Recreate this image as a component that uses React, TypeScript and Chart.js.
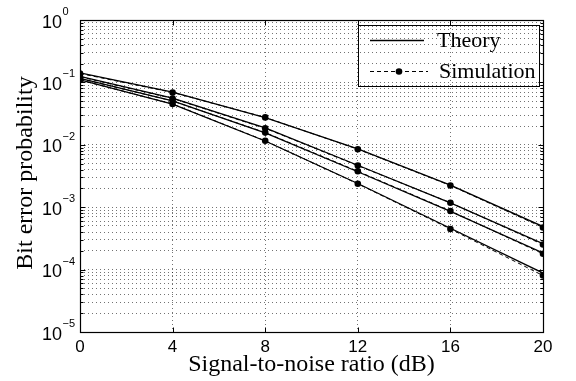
import React, { useEffect, useRef } from 'react';
import { Chart, registerables } from 'chart.js';

Chart.register(...registerables);

const snrDb = [0, 4, 8, 12, 16, 20];

const theory1 = [0.142, 0.07, 0.0272, 0.0086, 0.00226, 0.00049];
const theory2 = [0.125, 0.056, 0.0186, 0.0047, 0.00117, 0.00026];
const theory3 = [0.116, 0.0505, 0.0155, 0.0037, 0.00086, 0.000185];
const theory4 = [0.11, 0.045, 0.0115, 0.0024, 0.00046, 0.000088];

const sim1 = [0.139, 0.069, 0.0275, 0.0085, 0.00223, 0.000474];
const sim2 = [0.123, 0.0553, 0.0184, 0.00464, 0.00118, 0.000252];
const sim3 = [0.115, 0.0504, 0.0157, 0.00377, 0.00087, 0.000179];
const sim4 = [0.109, 0.0451, 0.0116, 0.00237, 0.000448, 0.0000803];

const xTickValues = [0, 4, 8, 12, 16, 20];
const yDecadeExponents = [-5, -4, -3, -2, -1, 0];
const xAxisTitle = 'Signal-to-noise ratio (dB)';
const yAxisTitle = 'Bit error probability';
const legendTheory = 'Theory';
const legendSimulation = 'Simulation';

const SANS = '"Liberation Sans", Arial, sans-serif';
const SERIF = '"Liberation Serif", "Times New Roman", serif';

export default function App() {
  const ref = useRef<HTMLCanvasElement>(null);

  useEffect(() => {
    document.body.style.margin = '0';
    const canvas = ref.current;
    if (!canvas) return;

    const theorySets = [theory1, theory2, theory3, theory4];
    const simSets = [sim1, sim2, sim3, sim4];
    const datasets: any[] = [];
    theorySets.forEach((arr) => {
      datasets.push({
        data: snrDb.map((x, i) => ({ x, y: arr[i] })),
        borderColor: '#000',
        borderWidth: 1.3,
        pointRadius: 0,
        fill: false,
        tension: 0,
      });
    });
    simSets.forEach((arr) => {
      datasets.push({
        data: snrDb.map((x, i) => ({ x, y: arr[i] })),
        borderColor: '#000',
        borderWidth: 1,
        borderDash: [4, 3],
        pointRadius: 3.3,
        pointBackgroundColor: '#000',
        pointBorderColor: '#000',
        pointBorderWidth: 0,
        fill: false,
        tension: 0,
      });
    });

    const yTickValues: number[] = [];
    for (let d = -5; d <= 0; d++) {
      for (let m = 1; m <= 9; m++) {
        const v = m * Math.pow(10, d);
        if (v <= 1.0000001) yTickValues.push(v);
      }
    }

    const decor = {
      id: 'decor',
      afterDraw(chart: any) {
        const { ctx, chartArea: a, scales } = chart;
        const xs = scales.x;
        const ys = scales.y;
        ctx.save();
        ctx.strokeStyle = '#000';
        ctx.fillStyle = '#000';
        ctx.lineWidth = 1;
        ctx.setLineDash([]);

        const L = Math.round(a.left) + 0.5;
        const R = Math.round(a.right) + 0.5;
        const T = Math.round(a.top) + 0.5;
        const B = Math.round(a.bottom) + 0.5;

        // tick marks
        ctx.beginPath();
        yTickValues.forEach((v) => {
          const y = Math.round(ys.getPixelForValue(v)) + 0.5;
          const major = Math.abs(Math.log10(v) - Math.round(Math.log10(v))) < 1e-6;
          const len = major ? 5 : 3;
          ctx.moveTo(L, y);
          ctx.lineTo(L + len, y);
          ctx.moveTo(R, y);
          ctx.lineTo(R - len, y);
        });
        xTickValues.forEach((v) => {
          const x = Math.round(xs.getPixelForValue(v)) + 0.5;
          ctx.moveTo(x, B);
          ctx.lineTo(x, B - 5);
          ctx.moveTo(x, T);
          ctx.lineTo(x, T + 5);
        });
        ctx.stroke();

        // frame
        ctx.lineWidth = 1.2;
        ctx.strokeRect(L, T, R - L, B - T);

        // y labels
        yDecadeExponents.forEach((d) => {
          const y = ys.getPixelForValue(Math.pow(10, d));
          ctx.font = `18px ${SANS}`;
          ctx.textAlign = 'right';
          ctx.textBaseline = 'alphabetic';
          ctx.fillText('10', 62, y + 7.5);
          ctx.font = `11px ${SANS}`;
          ctx.textAlign = 'left';
          const exp = d === 0 ? '0' : '\u2212' + String(-d);
          ctx.fillText(exp, 62.5, y - 5);
        });

        // x labels
        ctx.font = `17px ${SANS}`;
        ctx.textAlign = 'center';
        ctx.textBaseline = 'alphabetic';
        xTickValues.forEach((v) => {
          ctx.fillText(String(v), xs.getPixelForValue(v), 352);
        });

        // titles
        ctx.font = `24px ${SERIF}`;
        ctx.textAlign = 'center';
        ctx.textBaseline = 'alphabetic';
        ctx.fillText(xAxisTitle, (a.left + a.right) / 2, 371);
        ctx.save();
        ctx.translate(32, 173);
        ctx.rotate(-Math.PI / 2);
        ctx.fillText(yAxisTitle, 0, 0);
        ctx.restore();

        // legend (transparent box)
        const lx = 358.5, ly = 25.5, lw = 181, lh = 61;
        ctx.strokeStyle = '#000';
        ctx.lineWidth = 1;
        ctx.strokeRect(lx, ly, lw, lh);
        ctx.beginPath();
        ctx.lineWidth = 1.3;
        ctx.moveTo(370, 40.5);
        ctx.lineTo(424, 40.5);
        ctx.stroke();
        ctx.beginPath();
        ctx.lineWidth = 1;
        ctx.setLineDash([4, 3]);
        ctx.moveTo(370, 71.5);
        ctx.lineTo(428, 71.5);
        ctx.stroke();
        ctx.setLineDash([]);
        ctx.beginPath();
        ctx.arc(399, 71.5, 3.3, 0, Math.PI * 2);
        ctx.fill();
        ctx.font = `22px ${SERIF}`;
        ctx.textAlign = 'left';
        ctx.textBaseline = 'alphabetic';
        ctx.fillText(legendTheory, 437, 47);
        ctx.fillText(legendSimulation, 439, 78);

        ctx.restore();
      },
    };

    const chart = new Chart(canvas, {
      type: 'line',
      data: { datasets },
      options: {
        responsive: false,
        animation: false,
        layout: { padding: { top: 20, right: 33, left: 0, bottom: 0 } },
        plugins: { legend: { display: false }, tooltip: { enabled: false } },
        scales: {
          x: {
            type: 'linear',
            min: 0,
            max: 20,
            ticks: { display: false, stepSize: 4 },
            grid: { color: 'rgba(0,0,0,0.55)', lineWidth: 1, drawTicks: false },
            border: { display: false, dash: [1, 3] },
            afterFit: (s: any) => {
              s.height = 49;
            },
          },
          y: {
            type: 'logarithmic',
            min: 1e-5,
            max: 1,
            ticks: { display: false },
            afterBuildTicks: (s: any) => {
              s.ticks = yTickValues.map((v) => ({ value: v }));
            },
            grid: { color: 'rgba(0,0,0,0.55)', lineWidth: 1, drawTicks: false },
            border: { display: false, dash: [1, 3] },
            afterFit: (s: any) => {
              s.width = 80;
            },
          },
        },
      } as any,
      plugins: [decor],
    });

    return () => chart.destroy();
  }, []);

  return (
    <div style={{ width: 576, height: 381, background: '#fff' }}>
      <canvas ref={ref} width={576} height={381} />
    </div>
  );
}
